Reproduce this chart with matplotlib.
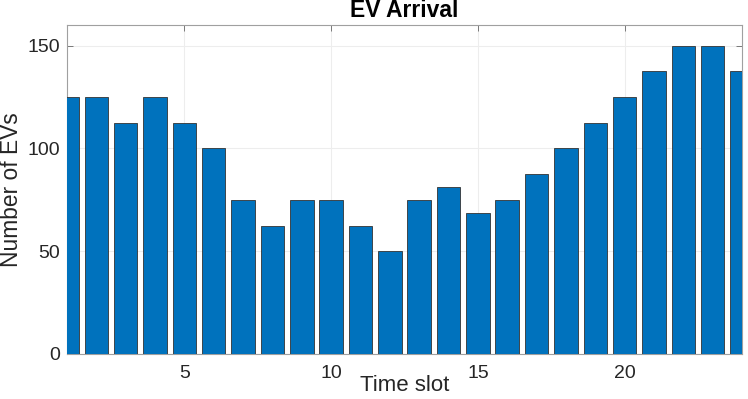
import numpy as np
import matplotlib.pyplot as plt

plt.rcParams['font.family'] = ['Liberation Sans', 'DejaVu Sans']

# EVs arriving in each time slot
slots = np.arange(1, 25)
arrivals = [125, 125, 112.5, 125, 112.5, 100, 75, 62.5, 75, 75, 62.5, 50,
            75, 81.25, 68.75, 75, 87.5, 100, 112.5, 125, 137.5, 150, 150, 137.5]

fig = plt.figure(figsize=(7.48, 3.99), dpi=100)
ax = fig.add_axes([0.0896, 0.1128, 0.9024, 0.8242])

ax.bar(slots, arrivals, width=0.8, color='#0072BD', edgecolor='#333333',
       linewidth=0.6, zorder=3)

ax.set_xlim(1, 24)
ax.set_ylim(0, 160)
ax.set_xticks([5, 10, 15, 20])
ax.set_yticks([0, 50, 100, 150])
ax.grid(True, color='#ededed', linewidth=0.8, zorder=0)
ax.tick_params(direction='in', length=4, width=0.6, color='#666666',
               labelsize=14, labelcolor='#262626', top=True, right=True)
ax.tick_params(axis='x', pad=8)
ax.tick_params(axis='y', pad=5)
for s in ax.spines.values():
    s.set_color('#a0a0a0')
    s.set_linewidth(0.8)

ax.set_title('EV Arrival', fontsize=16.5, fontweight='bold', pad=6)
ax.set_xlabel('Time slot', fontsize=16, color='#262626', labelpad=-5)
ax.set_ylabel('Number of EVs', fontsize=16.4, color='#262626', labelpad=3)

fig.savefig('out.png', dpi=100)
